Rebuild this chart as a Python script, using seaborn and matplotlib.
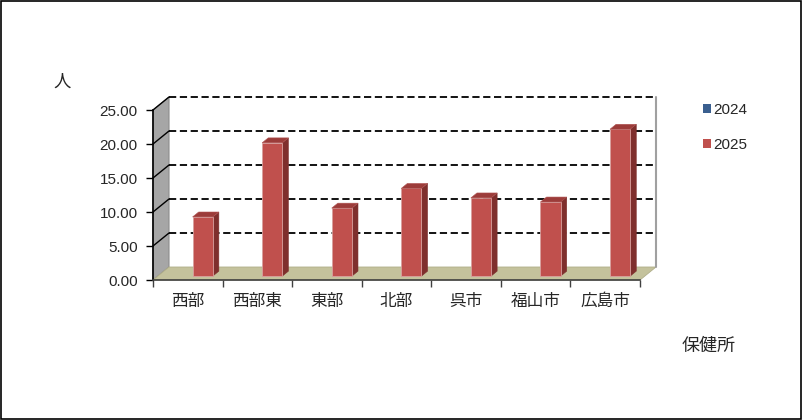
import matplotlib
matplotlib.use('Agg')
import matplotlib.pyplot as plt
import seaborn as sns
import pandas as pd
import numpy as np
from matplotlib.patches import Polygon, Rectangle, Patch

# data
categories = ['西部', '西部東', '東部', '北部', '呉市', '福山市', '広島市']
years = ['2024', '2025']
values_2024 = [0, 0, 0, 0, 0, 0, 0]
values_2025 = [8.7, 19.6, 10.0, 12.9, 11.5, 10.9, 21.6]
y_ticks = [0, 5, 10, 15, 20, 25]

df = pd.DataFrame({
    '保健所': categories * 2,
    'year': ['2024'] * len(categories) + ['2025'] * len(categories),
    'value': values_2024 + values_2025,
})

sns.set_style('white')
plt.rcParams['font.family'] = ['Noto Sans CJK JP', 'DejaVu Sans']
plt.rcParams['font.size'] = 10
num_font = ['Liberation Sans', 'DejaVu Sans']

fig = plt.figure(figsize=(8.03, 4.2), dpi=100)
ax = fig.add_axes([153 / 803, 140 / 420, 487 / 803, 170 / 420])
ax.set_facecolor('none')

colors = {'2024': '#3a5f8f', '2025': '#c0504d'}
sns.barplot(data=df, x='保健所', y='value', hue='year', hue_order=years,
            palette=colors, width=0.58, saturation=1, legend=False,
            edgecolor='#d9a09e', linewidth=0.6, ax=ax, zorder=4)

ax.set_xlim(-0.5, len(categories) - 0.5)
ax.set_ylim(0, 25)

# fake 3d depth, in data units
px_x = 487 / len(categories)
px_y = 170 / 25
dx = 16 / px_x
dy = 13 / px_y
x_left, x_right = -0.5, len(categories) - 0.5

# left wall, floor
ax.add_patch(Polygon([(x_left, 0), (x_left, 25), (x_left + dx, 25 + dy), (x_left + dx, dy)],
                     closed=True, facecolor='#a6a6a6', edgecolor='#8c8c8c', lw=0.8,
                     clip_on=False, zorder=0.5))
ax.add_patch(Polygon([(x_left, 0), (x_right, 0), (x_right + dx, dy), (x_left + dx, dy)],
                     closed=True, facecolor='#c4c29c', edgecolor='#b0ae88', lw=0.6,
                     clip_on=False, zorder=0.6))
# back wall right edge
ax.plot([x_right + dx, x_right + dx], [dy, 25 + dy], color='#a0a0a0', lw=1.5,
        clip_on=False, zorder=0.7)

# gridlines on back wall and left wall
for v in y_ticks[1:]:
    ax.plot([x_left + dx, x_right + dx], [v + dy, v + dy], color='black', lw=1.3,
            ls=(0, (4, 2)), clip_on=False, zorder=1)
    ax.plot([x_left, x_left + dx], [v, v + dy], color='black', lw=1.0,
            clip_on=False, zorder=1)

# move bars into the depth and add side/top faces
f0, f1 = 0.3, 0.68
bdx = (f1 - f0) * dx
bdy = (f1 - f0) * dy
for bar in list(ax.patches):
    if not isinstance(bar, Rectangle):
        continue
    h = bar.get_height()
    if not np.isfinite(h) or h <= 0:
        bar.set_visible(False)
        continue
    x0 = bar.get_x() + f0 * dx
    y0 = f0 * dy
    w = bar.get_width()
    bar.set_x(x0)
    bar.set_y(y0)
    x1 = x0 + w
    top = y0 + h
    ax.add_patch(Polygon([(x1, y0), (x1, top), (x1 + bdx, top + bdy), (x1 + bdx, y0 + bdy)],
                         closed=True, facecolor='#7f2f2d', edgecolor='#7f2f2d', lw=0.4,
                         clip_on=False, zorder=3.5))
    ax.add_patch(Polygon([(x0, top), (x1, top), (x1 + bdx, top + bdy), (x0 + bdx, top + bdy)],
                         closed=True, facecolor='#9c3c3a', edgecolor='#b05553', lw=0.4,
                         clip_on=False, zorder=4.5))

# axes
for side in ['top', 'right']:
    ax.spines[side].set_visible(False)
ax.spines['left'].set_color('black')
ax.spines['left'].set_linewidth(1.2)
ax.spines['bottom'].set_color('#404040')
ax.spines['bottom'].set_linewidth(1.2)
ax.spines['left'].set_zorder(2)
ax.spines['bottom'].set_zorder(2)

ax.set_yticks(y_ticks)
ax.set_yticklabels([f'{v:.2f}' for v in y_ticks], family=num_font, fontsize=11)
ax.tick_params(axis='y', direction='out', length=5, width=1, color='black', pad=6,
               left=True)
ax.set_xticks(range(len(categories)))
ax.set_xticklabels(categories, fontsize=12)
ax.set_xticks(np.arange(x_left, x_right + 0.01, 1), minor=True)
ax.tick_params(axis='x', which='major', length=0, pad=9)
ax.tick_params(axis='x', which='minor', direction='out', length=5, width=1,
               color='#404040', bottom=True)
ax.set_xlabel('')
ax.set_ylabel('')

fig.text(62 / 803, 1 - 82 / 420, '人', ha='center', va='center', fontsize=12.5)
fig.text(709 / 803, 1 - 346 / 420, '保健所', ha='center', va='center', fontsize=13)

handles = [Patch(facecolor=colors[y], edgecolor='none') for y in years]
leg = fig.legend(handles, years, loc='upper left', bbox_to_anchor=(703 / 803, 1 - 103 / 420),
                 frameon=False, handlelength=0.55, handleheight=0.55, handletextpad=0.1,
                 labelspacing=1.35, borderpad=0, borderaxespad=0,
                 prop={'family': num_font, 'size': 11})

fig.add_artist(Rectangle((0.001, 0.002), 0.997, 0.996, transform=fig.transFigure,
                         fill=False, edgecolor='black', lw=1.2))

fig.savefig('out.png', dpi=100)
